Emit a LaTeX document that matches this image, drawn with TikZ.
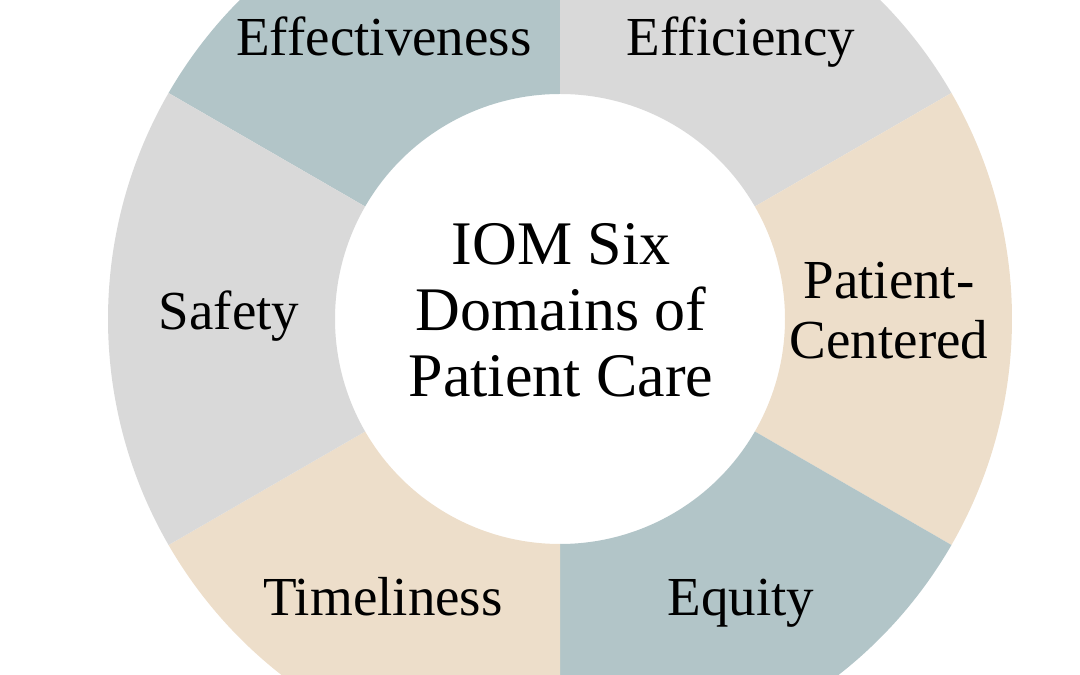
\documentclass[tikz,border=0pt]{standalone}
\usepackage{fontspec}
\setmainfont{Liberation Serif}
\usetikzlibrary{calc}
\definecolor{segblue}{HTML}{B2C5C8}
\definecolor{seggray}{HTML}{D9D9D9}
\definecolor{segbeige}{HTML}{EDDECA}
\begin{document}
\begin{tikzpicture}[x=1pt,y=1pt,
  lbl/.style={font=\fontsize{55}{60}\selectfont, align=center, text=black, inner sep=0pt},
  ctr/.style={font=\fontsize{62}{66}\selectfont, align=center, text=black, inner sep=0pt}]
\useasboundingbox (0,0) rectangle (1080,675);
\clip (0,0) rectangle (1080,675);
\coordinate (c) at (560,356);
\def\Ro{452}\def\Ri{225}
\foreach \a/\b/\col in {90/150/segblue, 30/90/seggray, -30/30/segbeige, -90/-30/segblue, 210/270/segbeige, 150/210/seggray}{
  \fill[\col] ($(c)+(\a:\Ro)$) arc[start angle=\a, end angle=\b, radius=\Ro]
    -- ($(c)+(\b:\Ri)$) arc[start angle=\b, end angle=\a, radius=\Ri] -- cycle;
}
\node[ctr] (center) at (561,365) {IOM Six\\Domains of\\Patient Care};
\node[lbl, anchor=base] (eff) at (384,619) {Effectiveness};
\node[lbl, anchor=base] (effi) at (741,619) {Efficiency};
\node[lbl, anchor=base] (saf) at (229,345) {Safety};
\node[lbl] (pc) at (889,364) {Patient-\\Centered};
\node[lbl, anchor=base] (tim) at (383,59) {Timeliness};
\node[lbl, anchor=base] (equ) at (741,59) {Equity};
\end{tikzpicture}
\end{document}
